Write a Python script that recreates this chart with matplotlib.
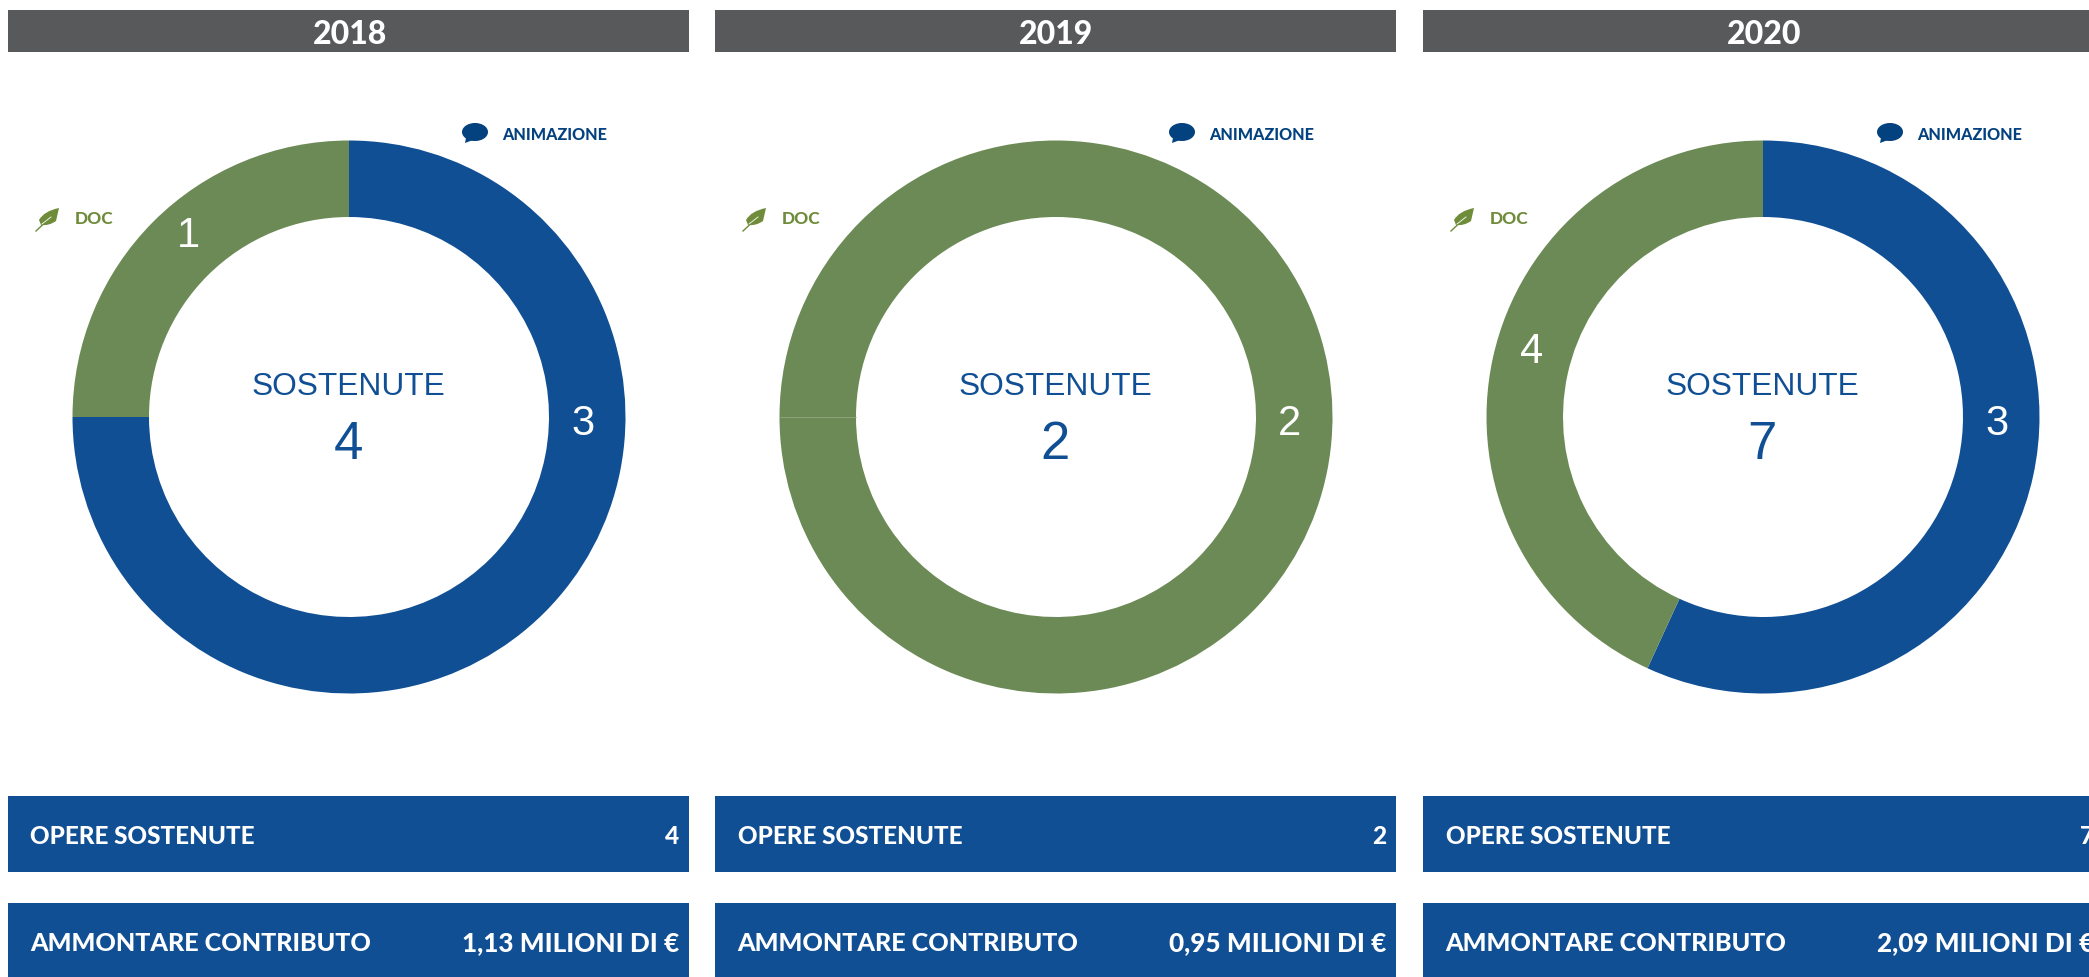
import math
import matplotlib
matplotlib.use("Agg")
import matplotlib.pyplot as plt
from matplotlib.patches import Ellipse, Polygon, Rectangle, PathPatch
from matplotlib.path import Path

years = ["2018", "2019", "2020"]
arc_first = [3, 1.5, 3.98]
arc_second = [1, 0.5, 3.02]
sostenute = [4, 2, 7]
opere = ["4", "2", "7"]
contributo = ["1,13 MILIONI DI €", "0,95 MILIONI DI €", "2,09 MILIONI DI €"]
slice_labels = [["3", "1"], ["", "2"], ["3", "4"]]

W, H = 2089, 977
BLUE, GREEN, GREY = "#104F94", "#6C8A55", "#58595B"
ICON_BLUE, ICON_GREEN = "#03417F", "#6F8C3A"
first_colors = [BLUE, GREEN, BLUE]
PANEL_X = [8, 715, 1423]
PANEL_W = 681
CX = [349, 1056, 1763]
CY, R_OUT, R_IN = 417, 276.5, 200
LABEL_POS = [[(583, 424), (188, 236)], [(0, 0), (1290, 424)], [(1997, 424), (1532, 352)]]
FUT = ["Lato", "DejaVu Sans"]
HEL = ["Liberation Sans", "DejaVu Sans"]

fig = plt.figure(figsize=(W / 100, H / 100), dpi=100, facecolor="white")
ov = fig.add_axes([0, 0, 1, 1], zorder=1)
ov.set_xlim(0, W)
ov.set_ylim(H, 0)
ov.axis("off")
ov.patch.set_alpha(0)


def leaf(x, y):
    v = [(x + 23, y - 11), (x + 8, y - 8), (x + 3, y + 1), (x + 5, y + 6),
         (x + 13, y + 7), (x + 20, y + 2), (x + 23, y - 11)]
    c = [Path.MOVETO, Path.CURVE3, Path.CURVE3, Path.LINETO, Path.CURVE3, Path.CURVE3, Path.CLOSEPOLY]
    ov.add_patch(PathPatch(Path(v, c), fc=ICON_GREEN, ec="none"))
    ov.plot([x, x + 15], [y + 12, y - 2], color=ICON_GREEN, lw=1)
    ov.plot([x + 6, x + 15], [y + 5, y - 2], color="white", lw=0.6)


for i, year in enumerate(years):
    x0 = PANEL_X[i]
    ov.add_patch(Rectangle((x0, 10), PANEL_W, 42, fc=GREY, ec="none"))
    ov.text(x0 + PANEL_W / 2 + 1, 34, year, color="white", fontsize=23, fontweight="black",
            family=FUT, ha="center", va="center")

    # donut
    ax = fig.add_axes([(CX[i] - R_OUT) / W, 1 - (CY + R_OUT) / H, 2 * R_OUT / W, 2 * R_OUT / H], zorder=0)
    ax.pie([arc_first[i], arc_second[i]], colors=[first_colors[i], GREEN], startangle=90, counterclock=False,
           radius=1, wedgeprops=dict(width=1 - R_IN / R_OUT, linewidth=0))
    ax.set_xlim(-1, 1)
    ax.set_ylim(-1, 1)
    if first_colors[i] == GREEN:
        # faint seam between two same-coloured slices, taken from the slice values
        t = math.radians(90 - 360 * arc_first[i] / (arc_first[i] + arc_second[i]))
        ax.plot([R_IN / R_OUT * math.cos(t), math.cos(t)], [R_IN / R_OUT * math.sin(t), math.sin(t)],
                color="#8BA277", lw=0.8, solid_capstyle="butt")

    for txt, pos in zip(slice_labels[i], LABEL_POS[i]):
        if txt:
            ov.text(pos[0], pos[1], txt, color="white", fontsize=30, family=HEL, ha="center", va="center")

    ov.text(CX[i] - 1, 387, "SOSTENUTE", color=BLUE, fontsize=22.8, family=HEL, ha="center", va="center")
    ov.text(CX[i] - 1, 445, str(sostenute[i]), color=BLUE, fontsize=38, family=HEL, ha="center", va="center")

    # legend icons
    ov.add_patch(Ellipse((x0 + 467, 132), 26, 18, fc=ICON_BLUE, ec="none"))
    ov.add_patch(Polygon([(x0 + 458, 138), (x0 + 465, 140), (x0 + 457, 143)], fc=ICON_BLUE, ec="none"))
    ov.text(x0 + 494, 134.5, "ANIMAZIONE", color=ICON_BLUE, fontsize=11.6, fontweight="black",
            family=FUT, ha="left", va="center")
    leaf(x0 + 28, 219)
    ov.text(x0 + 67, 219.5, "DOC", color=ICON_GREEN, fontsize=12.4, fontweight="black",
            family=FUT, ha="left", va="center")

    # bottom bars
    for y0, h, yt, fs_l, fs_r, left, right in [(796, 76, 836.5, 17.5, 17.6, "OPERE SOSTENUTE", opere[i]),
                                               (903, 74, 943.5, 18.1, 18.8, "AMMONTARE CONTRIBUTO", contributo[i])]:
        ov.add_patch(Rectangle((x0, y0), PANEL_W, h, fc=BLUE, ec="none"))
        ov.text(x0 + 22.5, yt, left, color="white", fontsize=fs_l, fontweight="black", family=FUT,
                ha="left", va="center")
        ov.text(x0 + 671, yt, right, color="white", fontsize=fs_r, fontweight="black", family=FUT,
                ha="right", va="center")

fig.savefig("out.png", dpi=100, facecolor="white")
